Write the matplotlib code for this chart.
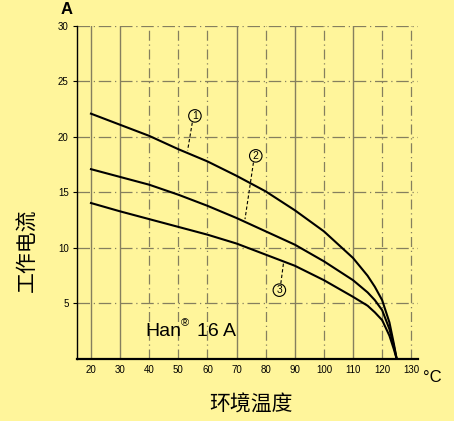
import numpy as np
import matplotlib
matplotlib.use("Agg")
import matplotlib.pyplot as plt

plt.rcParams['font.family'] = ['Liberation Sans', 'Noto Sans CJK SC', 'DejaVu Sans']

BG = '#fff59b'

# derating curves (temperature in C, current in A)
temp = [20, 30, 40, 50, 60, 70, 80, 90, 100, 110, 115, 117.5, 120, 122.5, 124, 125]
curve1 = [22.1, 21.1, 20.1, 18.9, 17.8, 16.5, 15.1, 13.4, 11.5, 9.1, 7.5, 6.5, 5.3, 3.3, 1.4, 0]
curve2 = [17.1, 16.4, 15.7, 14.8, 13.8, 12.7, 11.5, 10.3, 8.8, 7.1, 6.0, 5.3, 4.4, 2.7, 1.2, 0]
curve3 = [14.05, 13.3, 12.6, 11.9, 11.2, 10.4, 9.4, 8.4, 7.1, 5.6, 4.8, 4.2, 3.5, 2.1, 0.9, 0]

x_ticks = [20, 30, 40, 50, 60, 70, 80, 90, 100, 110, 120, 130]
y_ticks = [5, 10, 15, 20, 25, 30]

# circled labels: (text, label pos, leader start, leader end)
labels = [('1', (55.7, 21.9), (54.8, 21.3), (53.2, 18.8)),
          ('2', (76.6, 18.3), (75.8, 17.7), (72.9, 12.6)),
          ('3', (84.7, 6.2), (85.2, 6.8), (86.2, 8.8))]

fig = plt.figure(figsize=(4.54, 4.21), dpi=100, facecolor=BG)
ax = fig.add_axes([0.1696, 0.1473, 0.751, 0.791])
ax.set_facecolor(BG)

ax.set_xlim(15.2, 132.3)
ax.set_ylim(0, 30)

# scanned-style grid
grid_c = '#857f5e'
for xv in x_ticks:
    if xv in (20, 30, 70, 90, 110):
        ax.axvline(xv, color=grid_c, lw=1.0, zorder=1)
    else:
        ax.axvline(xv, color=grid_c, lw=0.9, ls=(0, (8, 3, 1, 3)), zorder=1)
for yv in y_ticks:
    ax.axhline(yv, color=grid_c, lw=0.9, ls=(0, (10, 3, 1, 3)), zorder=1)

for c in (curve1, curve2, curve3):
    ax.plot(temp, c, color='black', lw=1.5, zorder=3, solid_joinstyle='round')

for txt, (lx, ly), (sx, sy), (ex, ey) in labels:
    ax.text(lx, ly, txt, ha='center', va='center', fontsize=7.5,
            bbox=dict(boxstyle='circle,pad=0.12', fc=BG, ec='black', lw=0.8), zorder=4)
    ax.plot([sx, ex], [sy, ey], color='black', lw=0.8, ls=(0, (3, 2)), zorder=3)

ax.text(38.6, 2.5, 'Han', fontsize=14, ha='left', va='center', zorder=5)
ax.text(50.9, 3.7, '®', fontsize=8, ha='left', va='top', zorder=5)
ax.text(56.4, 2.5, '16 A', fontsize=14, ha='left', va='center', zorder=5)

for s in ('top', 'right'):
    ax.spines[s].set_visible(False)
ax.spines['left'].set_linewidth(1.0)
ax.spines['bottom'].set_linewidth(1.6)

ax.set_xticks(x_ticks)
ax.set_yticks(y_ticks)
ax.tick_params(axis='both', labelsize=7, length=3, width=0.8, direction='out')
ax.tick_params(axis='x', length=0, pad=4)
ax.tick_params(axis='y', pad=3)

fig.text(67 / 454, 1 - 10 / 421, 'A', fontsize=12, fontweight='bold', ha='center', va='center')
fig.text(432 / 454, 1 - 377 / 421, '°C', fontsize=12, ha='center', va='center')
fig.text(28 / 454, 1 - 250 / 421, '工作电流', fontsize=15, rotation=90, ha='center', va='center')
fig.text(251 / 454, 1 - 405 / 421, '环境温度', fontsize=15, ha='center', va='center')

fig.savefig('out.png', dpi=100, facecolor=BG)
